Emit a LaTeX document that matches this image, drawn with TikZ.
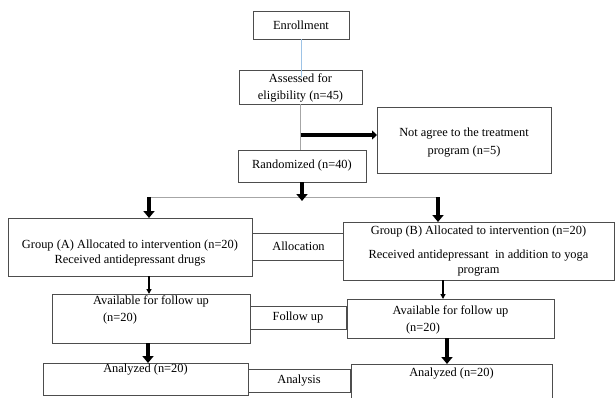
\documentclass[tikz,border=0pt]{standalone}
\usepackage{fontspec}
\setmainfont{Liberation Serif}
\usepackage{xcolor}
\usepackage{tikz}
\usetikzlibrary{positioning}
\usetikzlibrary{arrows.meta}

\definecolor{boxgray}{HTML}{4D4D4D}
\definecolor{linkgray}{HTML}{A6A6A6}
\definecolor{linkblue}{HTML}{9DC3E6}

\tikzset{
  box/.style={draw=boxgray,line width=0.8pt,fill=white,inner sep=0pt,outer sep=0pt,align=center,
    font=\fontsize{12.4pt}{15pt}\selectfont},
  txt/.style={inner sep=0pt,text height=9pt,text depth=3pt,font=\fontsize{12.4pt}{15pt}\selectfont},
  link/.style={draw=linkgray,line width=0.8pt},
  bluelink/.style={draw=linkblue,line width=0.8pt},
  bigarrow/.style={line width=4.5pt,-{Triangle[width=11pt,length=7pt]}},
  sidearrow/.style={line width=3.5pt,-{Triangle[width=9pt,length=5pt]}},
  smallarrow/.style={line width=1.5pt,-{Triangle[width=5pt,length=5pt]}}
}

\begin{document}
\begin{tikzpicture}[x=1pt,y=-1pt]
\useasboundingbox (0,0) rectangle (616,397);
\clip (0,0) rectangle (616,397);

\node[box,minimum width=96pt,minimum height=28pt] (enrol) at (301,25) {Enrollment};
\node[box,minimum width=123pt,minimum height=34pt] (assess) at (300.5,87) {\rule{0pt}{11pt}Assessed for\\[2pt] eligibility (n=45)};
\node[box,minimum width=174pt,minimum height=66pt] (excl) at (464,140) {\rule{0pt}{13pt}Not agree to the treatment\\[3pt] program (n=5)};
\node[box,minimum width=128pt,minimum height=32pt] (rand) at (302,166) {Randomized (n=40)};

\node[box,minimum width=93pt,minimum height=27pt] (alloc) at (298.5,246.5) {Allocation};
\node[box,minimum width=244pt,minimum height=58pt] (grpA) at (130,247) {\rule{0pt}{20pt}Group (A) Allocated to intervention (n=20)\\ Received antidepressant drugs};
\node[box,minimum width=271pt,minimum height=58pt] (grpB) at (478.5,251) {Group (B) Allocated to intervention (n=20)\\[9pt] Received antidepressant\ \ in addition to yoga\\ program};

\node[box,minimum width=96pt,minimum height=23pt] (fup) at (298,317.5) {Follow up};
\node[box,minimum width=198pt,minimum height=49pt] (fupA) at (151,318.5) {};
\node[box,minimum width=207pt,minimum height=39pt] (fupB) at (450.5,318.5) {};
\node[txt,below=1pt of fupA.north] (fupAa) {Available for follow up};
\node[txt,below=18pt of fupA.north,xshift=-31pt] (fupAb) {(n=20)};
\node[txt,below=6pt of fupB.north] (fupBa) {Available for follow up};
\node[txt,below=23pt of fupB.north,xshift=-27.5pt] (fupBb) {(n=20)};

\node[box,minimum width=102pt,minimum height=23pt] (ana) at (299,380.5) {Analysis};
\node[box,minimum width=205pt,minimum height=32pt] (anaA) at (145.5,379) {};
\node[box,minimum width=201pt,minimum height=40pt] (anaB) at (451.5,384) {};
\node[txt,below=0pt of anaA.north] (anaAa) {Analyzed (n=20)};
\node[txt,below=3pt of anaB.north] (anaBa) {Analyzed (n=20)};

\coordinate (brA) at (149,197);
\coordinate (brB) at (438,197);

% top part
\draw[bluelink] (enrol.south) -- ([yshift=-7pt]enrol.south |- assess.north);
\draw[link] (assess.south) -- (assess.south |- rand.north);
\draw[sidearrow] ([yshift=-31pt]assess.south) -- ([yshift=-31pt]assess.south -| excl.west);

% allocation
\draw[link] (brA) -- (brB);
\draw[bigarrow] (rand.south) -- ([yshift=-4pt]rand.south |- brA);
\draw[bigarrow] (brA) -- (brA |- grpA.north);
\draw[bigarrow] (brB) -- (brB |- grpB.north);

% follow up and analysis
\draw[smallarrow] (grpA.south -| brA) -- (brA |- fupA.north);
\draw[smallarrow] ([xshift=-35.5pt]grpB.south) -- ([xshift=-35.5pt]grpB.south |- fupB.north);
\draw[bigarrow] ([xshift=-1pt]fupA.south -| brA) -- ([xshift=-1pt]brA |- anaA.north);
\draw[bigarrow] ([xshift=-3.5pt]fupB.south) -- ([xshift=-3.5pt]fupB.south |- anaB.north);
\end{tikzpicture}
\end{document}
